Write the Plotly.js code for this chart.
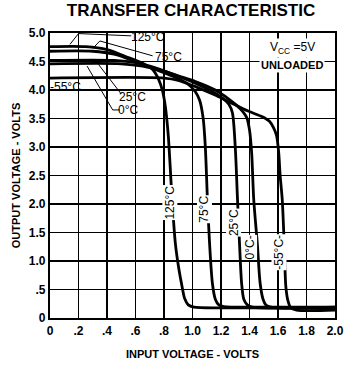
<!DOCTYPE html>
<html><head><meta charset="utf-8">
<script src="https://cdn.plot.ly/plotly-3.0.1.min.js"></script>
<style>html,body{margin:0;padding:0;background:#fff}#c{width:346px;height:367px}</style>
</head><body><div id="c"></div>
<script>
// Input voltage (V) and output voltage (V) for each temperature
const x125 = [0, 0.25, 0.4, 0.55, 0.65, 0.72, 0.76, 0.79, 0.81, 0.83, 0.857, 0.88, 0.905, 0.927, 0.945, 0.97, 1.01, 1.3, 2.0];
const v125 = [4.76, 4.76, 4.71, 4.57, 4.47, 4.36, 4.2, 3.98, 3.7, 3.2, 2.07, 1.3, 0.85, 0.55, 0.34, 0.23, 0.19, 0.18, 0.18];
const x75 = [0, 0.3, 0.45, 0.6, 0.75, 0.88, 0.96, 1.02, 1.05, 1.075, 1.09, 1.105, 1.12, 1.14, 1.16, 1.185, 1.22, 1.5, 2.0];
const v75 = [4.68, 4.68, 4.63, 4.5, 4.35, 4.22, 4.12, 3.97, 3.82, 3.5, 3.0, 2.07, 1.3, 0.6, 0.33, 0.23, 0.2, 0.19, 0.19];
const x25 = [0, 0.45, 0.6, 0.75, 0.9, 1.02, 1.12, 1.21, 1.255, 1.28, 1.3, 1.316, 1.33, 1.345, 1.36, 1.385, 1.42, 2.0];
const v25 = [4.52, 4.52, 4.48, 4.38, 4.24, 4.12, 4.0, 3.86, 3.75, 3.6, 3.0, 2.07, 1.3, 0.6, 0.33, 0.23, 0.19, 0.19];
const x0 = [0, 0.5, 0.65, 0.8, 0.92, 1.02, 1.16, 1.25, 1.31, 1.35, 1.38, 1.4, 1.415, 1.43, 1.455, 1.475, 1.495, 1.515, 1.55, 2.0];
const v0 = [4.46, 4.46, 4.42, 4.33, 4.23, 4.15, 4.0, 3.85, 3.73, 3.63, 3.52, 3.3, 2.9, 2.07, 1.3, 0.6, 0.33, 0.23, 0.19, 0.18];
const xm55 = [0, 0.8, 0.9, 1.02, 1.15, 1.25, 1.39, 1.49, 1.54, 1.57, 1.59, 1.605, 1.615, 1.63, 1.645, 1.655, 1.67, 1.69, 1.73, 2.0];
const vm55 = [4.21, 4.21, 4.17, 4.06, 3.92, 3.8, 3.63, 3.53, 3.45, 3.33, 3.2, 2.9, 2.5, 2.07, 1.2, 0.55, 0.3, 0.18, 0.14, 0.14];

const xTickVals = [0, 0.2, 0.4, 0.6, 0.8, 1.0, 1.2, 1.4, 1.6, 1.8, 2.0];
const xTickText = ['0', '.2', '.4', '.6', '.8', '1.0', '1.2', '1.4', '1.6', '1.8', '2.0'];
const yTickVals = [0, 0.5, 1.0, 1.5, 2.0, 2.5, 3.0, 3.5, 4.0, 4.5, 5.0];
const yTickText = ['0', '.5', '1.0', '1.5', '2.0', '2.5', '3.0', '3.5', '4.0', '4.5', '5.0'];

const FONT = '"Liberation Sans", Arial, sans-serif';
const lineStyle = {color: '#000', width: 2.8, shape: 'spline', smoothing: 0.8};
const series = [[x125, v125], [x75, v75], [x25, v25], [x0, v0], [xm55, vm55]];
const data = series.map(s => ({x: s[0], y: s[1], mode: 'lines', line: lineStyle, hoverinfo: 'skip', showlegend: false}));

const lab = (x, y, t, extra) => Object.assign({x: x, y: y, xref: 'x', yref: 'y', text: t, showarrow: false,
  font: {family: FONT, size: 12, color: '#000'}}, extra || {});
const vlab = (x, y, t) => lab(x, y, t, {textangle: -90, bgcolor: '#fff', borderpad: 0});

const annotations = [
  lab(0.69, 4.93, '125°C'),
  lab(0.83, 4.58, '75°C'),
  lab(0.11, 4.05, '-55°C'),
  lab(0.58, 3.88, '25°C'),
  lab(0.55, 3.65, '0°C'),
  vlab(0.84, 2.02, '125°C'),
  vlab(1.085, 1.91, '75°C'),
  vlab(1.29, 1.68, '25°C'),
  vlab(1.40, 1.23, '0°C-'),
  vlab(1.606, 1.16, '-55°C-'),
  lab(1.70, 4.74, 'V<sub>CC</sub> =5V', {bgcolor: '#fff', borderpad: 1}),
  lab(1.70, 4.43, 'UNLOADED', {bgcolor: '#fff', borderpad: 1, font: {family: FONT, size: 11, color: '#000', weight: 'bold'}})
];

const ls = {color: '#000', width: 1};
const shapes = [
  {type: 'path', xref: 'x', yref: 'y', path: 'M 0.57 4.95 L 0.2 4.99 L 0.14 4.8', line: ls},
  {type: 'path', xref: 'x', yref: 'y', path: 'M 0.72 4.6 L 0.35 4.86 L 0.3 4.73', line: ls},
  {type: 'path', xref: 'x', yref: 'y', path: 'M 0.23 4.0 L 0.45 4.0', line: ls},
  {type: 'path', xref: 'x', yref: 'y', path: 'M 0.5 3.93 L 0.34 4.45', line: ls},
  {type: 'path', xref: 'x', yref: 'y', path: 'M 0.49 3.65 L 0.44 3.65 L 0.26 4.42', line: ls}
];

const layout = {
  width: 346, height: 367,
  margin: {l: 50, r: 11, t: 33, b: 49},
  paper_bgcolor: '#fff', plot_bgcolor: '#fff',
  title: {text: 'TRANSFER CHARACTERISTIC', x: 0.552, xanchor: 'center', y: 0.99, yanchor: 'top',
    font: {family: FONT, size: 17, color: '#000', weight: 'bold'}},
  xaxis: {range: [0, 2.0], tickvals: xTickVals, ticktext: xTickText, showgrid: true, gridcolor: '#000', gridwidth: 1.6,
    showline: true, linecolor: '#000', linewidth: 2.2, mirror: true, zeroline: false, ticks: '',
    tickfont: {family: FONT, size: 12, color: '#000', weight: 'bold'},
    title: {text: 'INPUT VOLTAGE - VOLTS', font: {family: FONT, size: 11, color: '#000', weight: 'bold'}, standoff: 14}},
  yaxis: {range: [0, 5.0], tickvals: yTickVals, ticktext: yTickText, showgrid: true, gridcolor: '#000', gridwidth: 1.6,
    showline: true, linecolor: '#000', linewidth: 2.2, mirror: true, zeroline: false, ticks: '',
    tickfont: {family: FONT, size: 12, color: '#000', weight: 'bold'},
    title: {text: 'OUTPUT VOLTAGE - VOLTS', font: {family: FONT, size: 11, color: '#000', weight: 'bold'}, standoff: 6}},
  annotations: annotations,
  shapes: shapes
};

Plotly.newPlot('c', data, layout, {staticPlot: true, displayModeBar: false});
</script></body></html>
